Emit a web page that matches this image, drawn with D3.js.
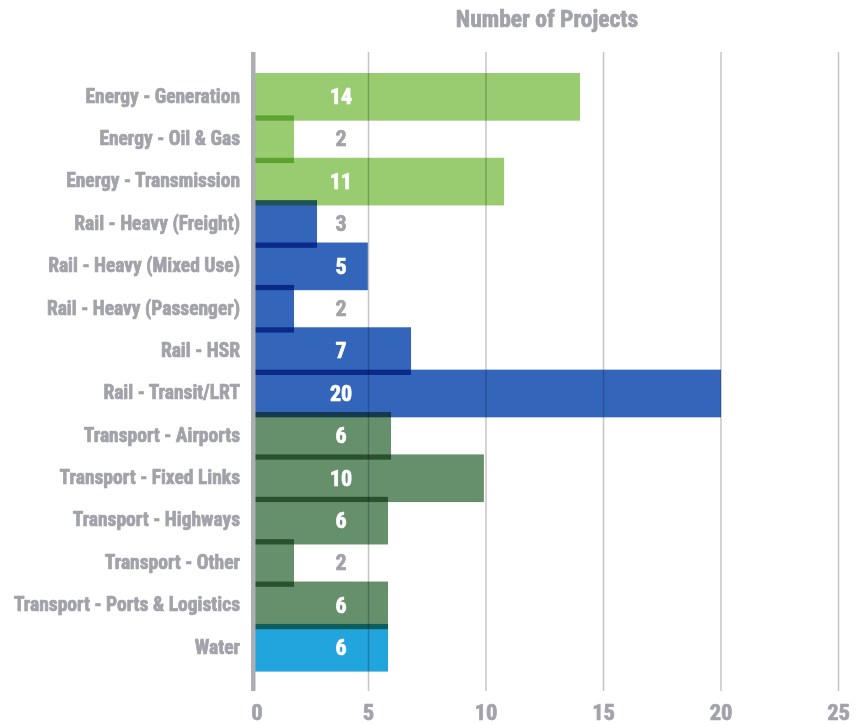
<!DOCTYPE html>
<html>
<head>
<meta charset="utf-8">
<script src="https://cdn.jsdelivr.net/npm/d3@7/dist/d3.min.js"></script>
<style>
  html, body { margin: 0; padding: 0; background: #ffffff; }
  svg { display: block; }
  text { font-family: "Liberation Sans Narrow", "Roboto Condensed", "DejaVu Sans Condensed", sans-serif; font-weight: bold; }
  .heavy { paint-order: stroke; stroke-width: 0.7px; stroke-linejoin: round; }
</style>
</head>
<body>
<svg id="chart" width="860" height="724"></svg>
<script>
const categories = [
  "Energy - Generation", "Energy - Oil & Gas", "Energy - Transmission",
  "Rail - Heavy (Freight)", "Rail - Heavy (Mixed Use)", "Rail - Heavy (Passenger)",
  "Rail - HSR", "Rail - Transit/LRT",
  "Transport - Airports", "Transport - Fixed Links", "Transport - Highways",
  "Transport - Other", "Transport - Ports & Logistics", "Water"
];
const groups = [
  "Energy", "Energy", "Energy",
  "Rail", "Rail", "Rail", "Rail", "Rail",
  "Transport", "Transport", "Transport", "Transport", "Transport",
  "Water"
];
const values = [14, 1.83, 10.77, 2.81, 4.97, 1.83, 6.81, 20, 5.96, 9.91, 5.83, 1.83, 5.83, 5.83];
const xTicks = [0, 5, 10, 15, 20, 25];
const title = "Number of Projects";

const groupColors = { Energy: "#99cc70", Rail: "#3366bb", Transport: "#66906c", Water: "#22a4dc" };

const svg = d3.select("#chart");
const x = d3.scaleLinear().domain([0, 25]).range([251, 838.5]);
const y = d3.scaleBand().domain(categories).range([73, 666.3]).padding(0);
const barH = y.bandwidth() * 1.125;
const gridTop = 52, gridBottom = 691;
const gray = "#a2a2aa";

// title
svg.append("text")
  .attr("class", "heavy")
  .attr("x", 547).attr("y", 27)
  .attr("text-anchor", "middle")
  .attr("font-size", 23.5)
  .attr("fill", gray).attr("stroke", gray)
  .text(title);

// gridlines
svg.append("g").selectAll("line")
  .data(xTicks.filter(t => t > 0))
  .join("line")
  .attr("x1", d => x(d)).attr("x2", d => x(d))
  .attr("y1", gridTop).attr("y2", gridBottom)
  .attr("stroke", "#c4c4c9").attr("stroke-width", 1.5);

// x tick labels
svg.append("g").selectAll("text")
  .data(xTicks)
  .join("text")
  .attr("class", "heavy")
  .attr("x", d => d === 0 ? x(d) + 6 : x(d))
  .attr("y", 719.5)
  .attr("text-anchor", "middle")
  .attr("font-size", 22.5)
  .attr("fill", gray).attr("stroke", gray)
  .text(d => d);

// bars
svg.append("g").selectAll("rect")
  .data(categories)
  .join("rect")
  .attr("x", x(0))
  .attr("y", d => y(d))
  .attr("width", (d, i) => x(values[i]) - x(0))
  .attr("height", barH)
  .attr("fill", (d, i) => groupColors[groups[i]])
  .style("mix-blend-mode", "multiply");

// axis line
svg.append("rect")
  .attr("x", 251).attr("y", gridTop)
  .attr("width", 4.5).attr("height", gridBottom - gridTop)
  .attr("fill", "#adadb4");

// category labels
svg.append("g").selectAll("text")
  .data(categories)
  .join("text")
  .attr("class", "heavy")
  .attr("x", 240)
  .attr("y", d => y(d) + barH / 2)
  .attr("dy", "0.3em")
  .attr("text-anchor", "end")
  .attr("font-size", 19.5)
  .attr("fill", gray).attr("stroke", gray)
  .text(d => d);

// value labels
const labelX = 341;
svg.append("g").selectAll("text")
  .data(categories)
  .join("text")
  .attr("class", "heavy")
  .attr("x", labelX)
  .attr("y", d => y(d) + barH / 2)
  .attr("dy", "0.33em")
  .attr("text-anchor", "middle")
  .attr("font-size", 22)
  .attr("fill", (d, i) => x(values[i]) > labelX + 12 ? "#ffffff" : gray)
  .attr("stroke", (d, i) => x(values[i]) > labelX + 12 ? "#ffffff" : gray)
  .text((d, i) => d3.format(".0f")(values[i]));
</script>
</body>
</html>
